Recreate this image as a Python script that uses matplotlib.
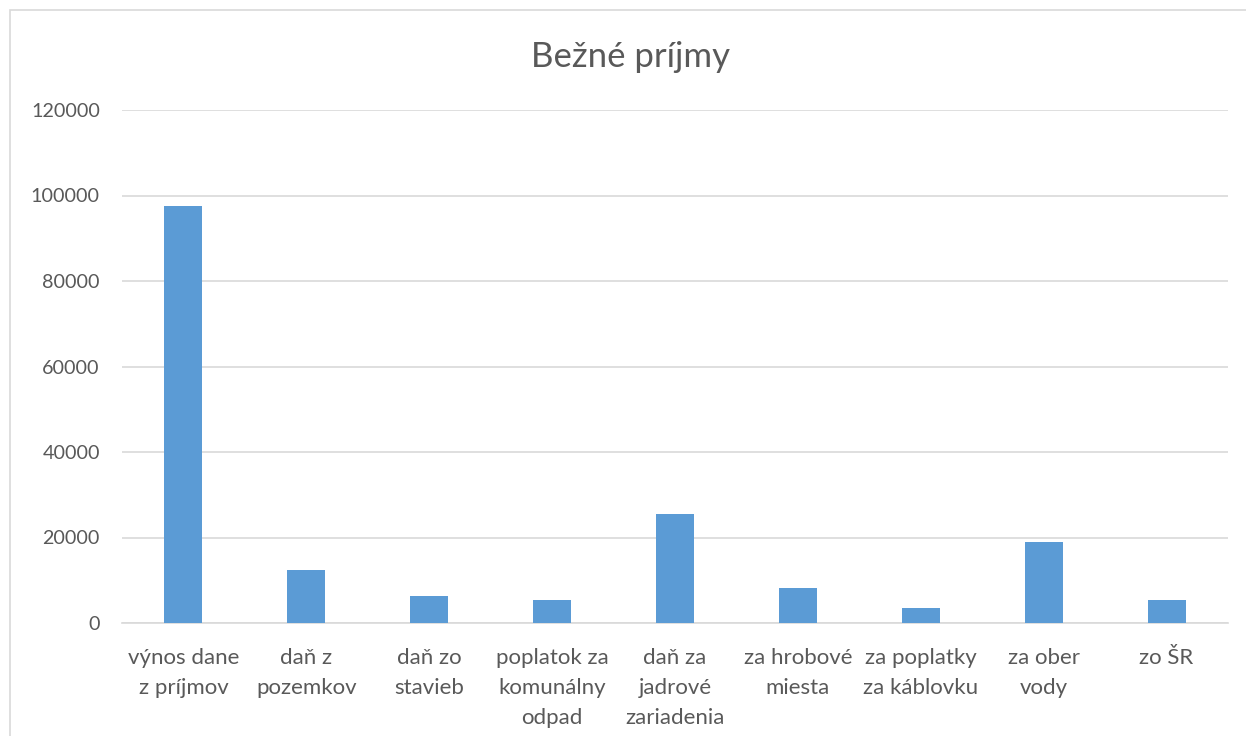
import numpy as np
import matplotlib.pyplot as plt
from matplotlib.patches import Rectangle

# data
categories = ["výnos dane\nz príjmov", "daň z\npozemkov", "daň zo\nstavieb",
              "poplatok za\nkomunálny\nodpad", "daň za\njadrové\nzariadenia",
              "za hrobové\nmiesta", "za poplatky\nza káblovku", "za ober\nvody", "zo ŠR"]
values = [97500, 12400, 6300, 5400, 25500, 8200, 3500, 19000, 5400]
yticks = [0, 20000, 40000, 60000, 80000, 100000, 120000]

plt.rcParams['font.family'] = ['Lato', 'DejaVu Sans']
txt = '#595959'

fig = plt.figure(figsize=(12.46, 7.36), dpi=100)
fig.patches.append(Rectangle((10/1246, -0.01), 1246, 1 - 10/736 + 0.01,
                             transform=fig.transFigure, fill=False,
                             edgecolor='#D9D9D9', linewidth=1.2))

ax = fig.add_axes([122/1246, 1 - 623/736, (1228 - 122)/1246, (623 - 110)/736])
x = np.arange(len(categories))
ax.bar(x, values, width=0.31, color='#5B9BD5', zorder=3)

ax.set_xlim(-0.5, len(categories) - 0.5)
ax.set_ylim(0, 120000)
ax.set_yticks(yticks)
ax.set_yticklabels([str(v) for v in yticks])
ax.set_xticks(x)
ax.set_xticklabels(categories, linespacing=1.62, fontsize=16)
ax.tick_params(axis='both', length=0, colors=txt)
ax.tick_params(axis='y', pad=16, labelsize=14.2)
ax.tick_params(axis='x', pad=18)
ax.grid(axis='y', color='#D9D9D9', linewidth=1.2, zorder=0)
for s in ['top', 'right', 'left']:
    ax.spines[s].set_visible(False)
ax.spines['bottom'].set_color('#D9D9D9')
ax.spines['bottom'].set_linewidth(1.2)

fig.text(0.5 + 8/1246, 1 - 57/736, "Bežné príjmy", ha='center', va='center',
         fontsize=25, color=txt)

fig.savefig('out.png', dpi=100)
